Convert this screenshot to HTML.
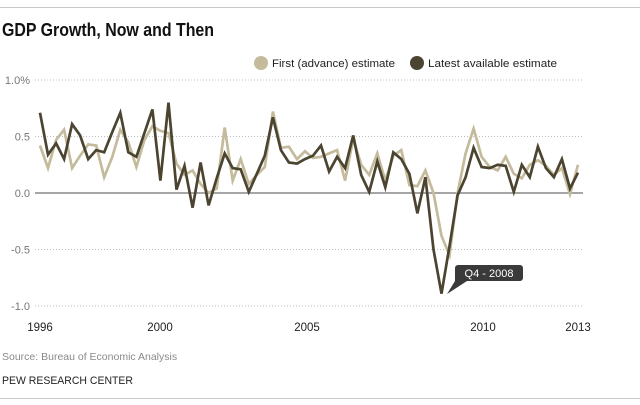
<!DOCTYPE html>
<html><head><meta charset="utf-8"><style>
html,body{margin:0;padding:0;background:#fff;}
svg{display:block;font-family:"Liberation Sans",sans-serif;}
</style></head><body>
<svg id="chart" width="640" height="405" viewBox="0 0 640 405">
  <line x1="0" y1="7.5" x2="640" y2="7.5" stroke="#c8c8c8" stroke-width="1"/>
  <text x="2" y="36" font-size="18" font-weight="bold" fill="#111" textLength="212" lengthAdjust="spacingAndGlyphs">GDP Growth, Now and Then</text>
  <g>
    <circle cx="261" cy="63" r="7" fill="#c4bb9c"/>
    <text x="272" y="67" font-size="11" fill="#222" textLength="123" lengthAdjust="spacingAndGlyphs">First (advance) estimate</text>
    <circle cx="417" cy="63" r="7" fill="#4a4430"/>
    <text x="428" y="67" font-size="11" fill="#222" textLength="129" lengthAdjust="spacingAndGlyphs">Latest available estimate</text>
  </g>
  <g id="grid"></g>
  <g id="xaxis"></g>
  <g id="series"></g>
  <g>
    <path d="M455,268 a3,3 0 0 1 3,-3 h62 a3,3 0 0 1 3,3 v10 a3,3 0 0 1 -3,3 h-53 l-20,13 l8,-13 z" fill="#3a3a3a"/>
    <text x="489" y="277" font-size="11" fill="#fff" text-anchor="middle">Q4 - 2008</text>
  </g>
  <text x="2" y="360" font-size="10.5" fill="#8a8a8a">Source: Bureau of Economic Analysis</text>
  <text x="2" y="384" font-size="11" fill="#222" textLength="131" lengthAdjust="spacingAndGlyphs">PEW RESEARCH CENTER</text>
  <line x1="0" y1="398.5" x2="640" y2="398.5" stroke="#c8c8c8" stroke-width="1"/>
</svg>
<script>
const firstEstimate = [0.42,0.22,0.47,0.56,0.22,0.33,0.43,0.42,0.14,0.32,0.56,0.45,0.23,0.47,0.59,0.55,0.53,0.26,0.16,0.20,0.08,0.0,0.04,0.58,0.11,0.30,0.08,0.16,0.23,0.72,0.40,0.41,0.30,0.37,0.31,0.32,0.35,0.38,0.11,0.48,0.25,0.16,0.35,0.11,0.33,0.38,0.07,0.06,0.20,0.0,-0.38,-0.55,0.0,0.35,0.57,0.32,0.23,0.20,0.32,0.17,0.13,0.25,0.29,0.24,0.16,0.22,-0.01,0.25];
const latestEstimate = [0.71,0.34,0.44,0.30,0.61,0.51,0.30,0.38,0.36,0.54,0.71,0.36,0.32,0.53,0.74,0.11,0.80,0.03,0.24,-0.13,0.27,-0.11,0.13,0.35,0.22,0.21,0.01,0.17,0.33,0.67,0.38,0.27,0.26,0.30,0.33,0.42,0.19,0.32,0.22,0.51,0.16,0.01,0.28,0.05,0.36,0.30,0.17,-0.18,0.14,-0.50,-0.89,-0.47,-0.02,0.14,0.40,0.23,0.22,0.25,0.24,0.01,0.25,0.14,0.41,0.22,0.14,0.30,0.04,0.18];
const yTicks = [1.0,0.5,0.0,-0.5,-1.0];
const yTickLabels = ["1.0%","0.5","0.0","-0.5","-1.0"];
const xTickYears = [1996,2000,2005,2010,2013];
const xTickLabels = ["1996","2000","2005","2010","2013"];

const NS="http://www.w3.org/2000/svg";
const x0=40,x1=578;
function yScale(v){return 193-v*113;}
function xIndex(i,n){return x0+(x1-x0)*i/(n-1);}
function xYear(yr){
  const map={1996:40,2000:160,2005:307,2010:483,2013:578};
  if(map[yr]!==undefined) return map[yr];
  return x0+(yr-1996)*(x1-x0)/17;
}
function mk(tag,attrs){const e=document.createElementNS(NS,tag);for(const k in attrs)e.setAttribute(k,attrs[k]);return e;}

const grid=document.getElementById('grid');
yTicks.forEach((t,i)=>{
  const y=yScale(t);
  const ln=mk('line',{x1:35,x2:583,y1:y,y2:y,stroke:t===0?'#888':'#bdbdbd','stroke-width':t===0?1.5:1,'stroke-dasharray':t===0?'none':'1,2'});
  
  
  grid.appendChild(ln);
  const tx=mk('text',{x:30,y:y+4,'font-size':11,fill:'#777','text-anchor':'end'});
  
  
  tx.textContent=yTickLabels[i];
  grid.appendChild(tx);
});
const xa=document.getElementById('xaxis');
xTickYears.forEach((yr,i)=>{
  const tx=mk('text',{x:xYear(yr),y:331,'font-size':11.5,fill:'#222','text-anchor':'middle'});
  
  
  tx.textContent=xTickLabels[i];
  xa.appendChild(tx);
});
const sg=document.getElementById('series');
function line(data,color,name){
  const pts=data.map((v,i)=>xIndex(i,data.length).toFixed(1)+','+yScale(v).toFixed(1)).join(' ');
  const pl=mk('polyline',{points:pts,fill:'none',stroke:color,'stroke-width':2.7,'stroke-linejoin':'miter','stroke-miterlimit':4});
  
  
  sg.appendChild(pl);
}
line(firstEstimate,'#c4bb9c','first-estimate-line');
line(latestEstimate,'#4a4430','latest-estimate-line');
</script>
</body></html>
